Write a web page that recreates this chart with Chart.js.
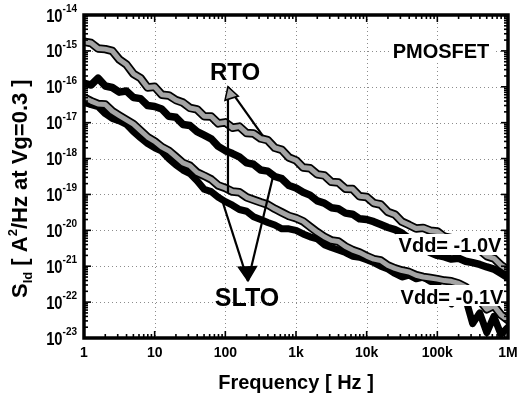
<!DOCTYPE html>
<html><head><meta charset="utf-8">
<script src="https://cdn.jsdelivr.net/npm/chart.js@4"></script>
<style>html,body{margin:0;padding:0;background:#fff;} #c{display:block;}</style>
</head><body>
<canvas id="c" width="525" height="397"></canvas>
<script>
// ---- data ----
const freqHz = [1,1.26,1.58,2,2.51,3.16,3.98,5.01,6.31,7.94,
  10,12.6,15.8,20,25.1,31.6,39.8,50.1,63.1,79.4,
  100,126,158,200,251,316,398,501,631,794,
  1000,1260,1580,2000,2510,3160,3980,5010,6310,7940,
  10000,12600,15800,20000,25100,31600,39800,50100,63100,79400,
  100000,126000,158000,200000,251000,316000,398000,501000,631000,794000,1000000];

// RTO, Vdd = -1.0 V (gray, upper)
const rtoHigh = [1.8e-15,1.66e-15,1.17e-15,1.12e-15,1.0e-15,5.75e-16,4.17e-16,2.29e-16,1.74e-16,9.55e-17,
  1.0e-16,6.03e-17,5.75e-17,4.27e-17,3.63e-17,2.57e-17,2.34e-17,1.51e-17,1.48e-17,9.55e-18,
  1.02e-17,7.24e-18,7.76e-18,5.13e-18,5.01e-18,3.63e-18,3.24e-18,2.0e-18,1.74e-18,1.07e-18,
  8.91e-19,5.62e-19,5.37e-19,3.63e-19,3.39e-19,2.24e-19,2.14e-19,1.45e-19,1.41e-19,8.91e-20,
  8.51e-20,5.75e-20,5.25e-20,3.24e-20,2.75e-20,1.74e-20,1.41e-20,1.12e-20,1.17e-20,9.77e-21,
  9.33e-21,6.61e-21,6.03e-21,4.07e-21,3.8e-21,2.88e-21,2.82e-21,1.91e-21,1.66e-21,1.07e-21,
  7.94e-22];
// SLTO, Vdd = -1.0 V (black, upper)
const sltoHigh = [1.26e-16,1.12e-16,1.74e-16,1.05e-16,9.55e-17,7.08e-17,7.59e-17,5.01e-17,4.68e-17,3.02e-17,
  2.82e-17,2.40e-17,1.51e-17,1.41e-17,8.91e-18,8.32e-18,5.62e-18,4.47e-18,3.55e-18,2.19e-18,
  1.66e-18,1.38e-18,1.12e-18,7.59e-19,6.92e-19,4.79e-19,4.47e-19,3.16e-19,2.75e-19,1.78e-19,
  1.51e-19,1.15e-19,9.55e-20,6.61e-20,5.75e-20,4.27e-20,3.98e-20,3.02e-20,2.82e-20,2.09e-20,
  2.0e-20,1.74e-20,1.45e-20,1.2e-20,1.05e-20,8.32e-21,6.03e-21,4.17e-21,3.16e-21,2.40e-21,
  2.0e-21,1.82e-21,1.58e-21,1.66e-21,1.38e-21,1.26e-21,1.12e-21,9.55e-22,8.32e-22,6.31e-22,
  4.79e-22];
// RTO, Vdd = -0.1 V (gray, lower)
const rtoLow = [5.01e-17,3.98e-17,3.31e-17,3.2e-17,2.09e-17,1.58e-17,1.20e-17,9.1e-18,6.03e-18,3.98e-18,
  3.02e-18,2.09e-18,1.66e-18,1.12e-18,7.59e-19,6.31e-19,4.1e-19,3.31e-19,2.63e-19,1.78e-19,
  1.51e-19,1.20e-19,1.15e-19,8.32e-20,7.08e-20,6.03e-20,5.2e-20,3.98e-20,3.16e-20,2.51e-20,
  2.19e-20,1.78e-20,1.26e-20,8.91e-21,6.61e-21,5.25e-21,4.9e-21,3.55e-21,2.82e-21,2.40e-21,
  1.91e-21,1.58e-21,1.45e-21,1.05e-21,8.71e-22,7.59e-22,6.9e-22,5.62e-22,5.01e-22,4.68e-22,
  4.37e-22,3.98e-22,3.80e-22,3.31e-22,2.63e-22,1.78e-22,1.12e-22,6.31e-23,7.94e-23,4.47e-23,
  3.16e-23];
// SLTO, Vdd = -0.1 V (black, lower)
const sltoLow = [3.80e-17,3.16e-17,2.8e-17,1.78e-17,1.32e-17,1.12e-17,9.0e-18,5.62e-18,3.80e-18,2.63e-18,
  2.0e-18,1.6e-18,1.0e-18,6.61e-19,4.79e-19,3.80e-19,2.40e-19,1.4e-19,1.20e-19,8.32e-20,
  6.31e-20,5.01e-20,3.80e-20,3.4e-20,2.40e-20,2.0e-20,1.66e-20,1.41e-20,1.1e-20,1.10e-20,
  1.0e-20,7.94e-21,6.61e-21,5.8e-21,3.98e-21,3.31e-21,2.82e-21,2.40e-21,1.9e-21,1.78e-21,
  1.51e-21,1.26e-21,1.0e-21,8.32e-22,6.31e-22,5.01e-22,5.62e-22,4.47e-22,5.01e-22,3.80e-22,
  3.16e-22,1.41e-22,8.91e-23,2.0e-22,1.26e-22,2.51e-23,5.01e-23,1.41e-23,3.98e-23,1.26e-23,
  2.0e-23];

const xTickValues = [1,10,100,1000,10000,100000,1000000];
const xTickLabels = ['1','10','100','1k','10k','100k','1M'];
const yTickExponents = [-14,-15,-16,-17,-18,-19,-20,-21,-22,-23];

// arrow anchors in data coordinates [Hz, A^2/Hz]
const rtoArrow = {tip:[109,1.0e-16], ends:[[340,4.3e-18],[109,1.1e-19]]};
const sltoArrow = {tip:[209,3.9e-22], ends:[[89.5,7.1e-20],[487,4.0e-19]]};

// ---- drawing ----
const FONT = '"Liberation Sans", Arial, Helvetica, sans-serif';
const GRAY = '#a4a4a4';

function pts(arr){ return freqHz.map((f,i)=>({x:f,y:arr[i]})); }
function ds(arr, color, width, order){
  return {data:pts(arr), borderColor:color, borderWidth:width, pointRadius:0, tension:0,
    borderJoinStyle:'round', borderCapStyle:'round', fill:false, order:order};
}

const decor = {
  id:'decor',
  beforeDatasetsDraw(chart){
    const {ctx, chartArea:a, scales:{x,y}} = chart;
    ctx.save();
    ctx.strokeStyle='#8c8c8c'; ctx.lineWidth=1; ctx.setLineDash([1,3]);
    xTickValues.forEach(v=>{
      const px=Math.round(x.getPixelForValue(v))+0.5;
      if(px<a.left+3||px>a.right-3) return;
      ctx.beginPath(); ctx.moveTo(px,a.top); ctx.lineTo(px,a.bottom); ctx.stroke();
    });
    yTickExponents.forEach(e=>{
      const py=Math.round(y.getPixelForValue(Math.pow(10,e)))+0.5;
      if(py<a.top+3||py>a.bottom-3) return;
      ctx.beginPath(); ctx.moveTo(a.left,py); ctx.lineTo(a.right,py); ctx.stroke();
    });
    ctx.restore();
  },
  afterDatasetsDraw(chart){
    const {ctx, chartArea:a, scales:{x,y}} = chart;
    ctx.save();
    // arrows
    function arrow(spec, fill, size, half){
      const T=[x.getPixelForValue(spec.tip[0]), y.getPixelForValue(spec.tip[1])];
      const E=spec.ends.map(p=>[x.getPixelForValue(p[0]), y.getPixelForValue(p[1])]);
      ctx.strokeStyle='#000'; ctx.lineWidth=2.2; ctx.setLineDash([]);
      E.forEach(e=>{ctx.beginPath();ctx.moveTo(T[0],T[1]);ctx.lineTo(e[0],e[1]);ctx.stroke();});
      let dx=0,dy=0;
      E.forEach(e=>{const l=Math.hypot(e[0]-T[0],e[1]-T[1]); dx+=(e[0]-T[0])/l; dy+=(e[1]-T[1])/l;});
      const l=Math.hypot(dx,dy); dx/=l; dy/=l;
      const bx=T[0]+dx*size, by=T[1]+dy*size;
      ctx.beginPath(); ctx.moveTo(T[0],T[1]);
      ctx.lineTo(bx-dy*half, by+dx*half); ctx.lineTo(bx+dy*half, by-dx*half); ctx.closePath();
      ctx.fillStyle=fill; ctx.fill(); ctx.lineWidth=1.5; ctx.stroke();
    }
    arrow(rtoArrow, GRAY, 12, 7);
    arrow(sltoArrow, '#000', 14, 9);

    // labels with white boxes
    ctx.fillStyle='#fff';
    ctx.fillRect(389,40,105,20);
    ctx.fillRect(396,234,110,21);
    ctx.fillRect(398,285,108,21);
    ctx.fillStyle='#000'; ctx.textBaseline='alphabetic';
    ctx.font='bold 20px '+FONT; ctx.textAlign='center';
    ctx.fillText('PMOSFET', 441, 58);
    ctx.fillText('Vdd= -1.0V', 450, 252);
    ctx.fillText('Vdd= -0.1V', 452, 304);
    ctx.font='bold 24px '+FONT;
    ctx.fillText('RTO', 235, 80);
    ctx.font='bold 25px '+FONT;
    ctx.fillText('SLTO', 247, 306);

    // frame
    ctx.strokeStyle='#000'; ctx.lineWidth=3.5;
    ctx.strokeRect(a.left, a.top, a.right-a.left, a.bottom-a.top);
    // inward ticks
    ctx.lineWidth=1.6;
    const minors=[2,3,4,5,6,7,8,9];
    function xt(v,len){const px=x.getPixelForValue(v);
      ctx.beginPath();ctx.moveTo(px,a.bottom);ctx.lineTo(px,a.bottom-len);ctx.stroke();
      ctx.beginPath();ctx.moveTo(px,a.top);ctx.lineTo(px,a.top+len);ctx.stroke();}
    function yt(v,len){const py=y.getPixelForValue(v);
      ctx.beginPath();ctx.moveTo(a.left,py);ctx.lineTo(a.left+len,py);ctx.stroke();
      ctx.beginPath();ctx.moveTo(a.right,py);ctx.lineTo(a.right-len,py);ctx.stroke();}
    xTickValues.forEach((v,i)=>{xt(v,7); if(i<xTickValues.length-1) minors.forEach(m=>xt(v*m,4));});
    yTickExponents.forEach((e,i)=>{const v=Math.pow(10,e); yt(v,7); if(i>0) minors.forEach(m=>yt(v*m,4));});

    // tick labels
    ctx.fillStyle='#000';
    ctx.font='bold 14px '+FONT; ctx.textAlign='center';
    xTickValues.forEach((v,i)=>ctx.fillText(xTickLabels[i], x.getPixelForValue(v), 357));
    yTickExponents.forEach(e=>{
      const py=y.getPixelForValue(Math.pow(10,e));
      ctx.font='bold 10px '+FONT; const es=String(e); const ew=ctx.measureText(es).width;
      const x0=77-ew;
      ctx.textAlign='left'; ctx.fillText(es, x0, py-3);
      ctx.save(); ctx.translate(x0, py+6.5); ctx.scale(0.82,1);
      ctx.font='bold 18px '+FONT; ctx.textAlign='right'; ctx.fillText('10', 0, 0);
      ctx.restore();
    });
    // axis titles
    ctx.font='bold 20px '+FONT; ctx.textAlign='center';
    ctx.fillText('Frequency [ Hz ]', 296, 389);
    // y title rotated
    ctx.save();
    ctx.translate(27, 298); ctx.rotate(-Math.PI/2);
    ctx.textAlign='left';
    let cx=0;
    const parts=[['S',22,0],['Id',13,5],[' [ A',22,0],['2',13,-10],['/Hz at Vg=0.3 ]',22,0]];
    parts.forEach(p=>{ctx.font='bold '+p[1]+'px '+FONT; ctx.fillText(p[0], cx, p[2]); cx+=ctx.measureText(p[0]).width;});
    ctx.restore();
    ctx.restore();
  }
};

new Chart(document.getElementById('c'), {
  type:'line',
  data:{datasets:[
    ds(rtoHigh, GRAY, 5, 1),
    ds(rtoHigh, '#000', 8.5, 2),
    ds(rtoLow, GRAY, 5, 3),
    ds(rtoLow, '#000', 8.5, 4),
    ds(sltoHigh, '#000', 7.5, 5),
    ds(sltoLow, '#000', 7, 6)
  ]},
  options:{
    responsive:false, animation:false, events:[],
    layout:{padding:{left:84, right:17, top:15, bottom:59}},
    plugins:{legend:{display:false}, tooltip:{enabled:false}},
    scales:{
      x:{type:'logarithmic', min:1, max:1e6, display:false},
      y:{type:'logarithmic', min:1e-23, max:1e-14, display:false}
    }
  },
  plugins:[decor]
});
</script>
</body></html>
